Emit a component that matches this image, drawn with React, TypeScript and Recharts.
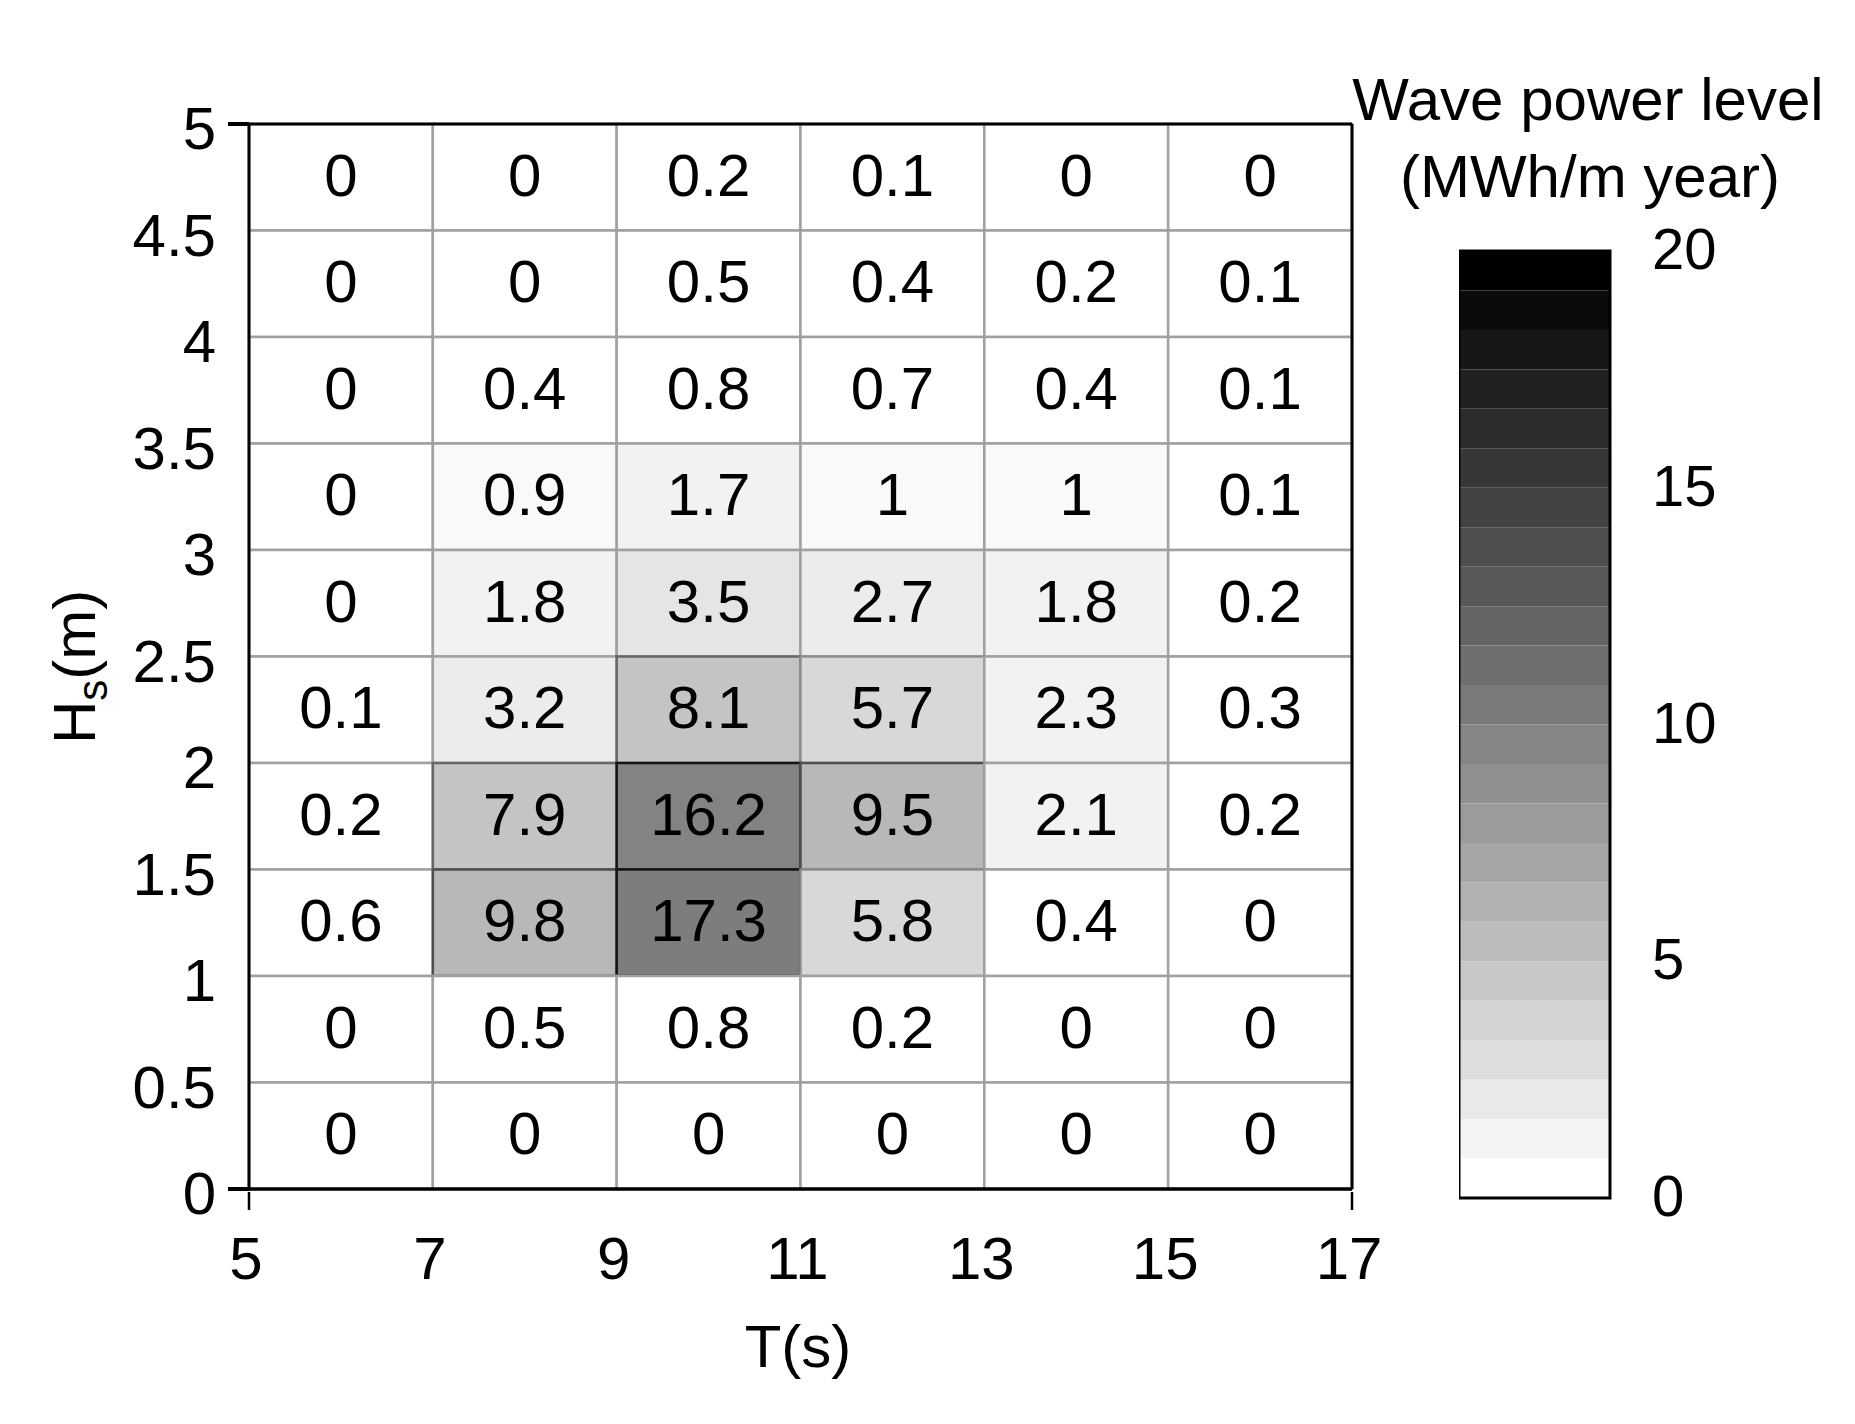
import React from 'react';
import { ScatterChart, Scatter, XAxis, YAxis, ReferenceArea, ReferenceLine } from 'recharts';

const FONT = '"Liberation Sans", Arial, sans-serif';

// Axis ticks / bin edges
const periodEdges = [5, 7, 9, 11, 13, 15, 17];
const heightTicks = [0, 0.5, 1, 1.5, 2, 2.5, 3, 3.5, 4, 4.5, 5];
const binWidthT = 2;
const binHeightH = 0.5;

// Wave power level (MWh/m year) per Hs bin, columns = T bins 5-7 ... 15-17
const hs45to50 = [0, 0, 0.2, 0.1, 0, 0];
const hs40to45 = [0, 0, 0.5, 0.4, 0.2, 0.1];
const hs35to40 = [0, 0.4, 0.8, 0.7, 0.4, 0.1];
const hs30to35 = [0, 0.9, 1.7, 1, 1, 0.1];
const hs25to30 = [0, 1.8, 3.5, 2.7, 1.8, 0.2];
const hs20to25 = [0.1, 3.2, 8.1, 5.7, 2.3, 0.3];
const hs15to20 = [0.2, 7.9, 16.2, 9.5, 2.1, 0.2];
const hs10to15 = [0.6, 9.8, 17.3, 5.8, 0.4, 0];
const hs05to10 = [0, 0.5, 0.8, 0.2, 0, 0];
const hs00to05 = [0, 0, 0, 0, 0, 0];

const rowStarts = [4.5, 4, 3.5, 3, 2.5, 2, 1.5, 1, 0.5, 0];
const rowValues = [hs45to50, hs40to45, hs35to40, hs30to35, hs25to30, hs20to25, hs15to20, hs10to15, hs05to10, hs00to05];

// Colour bar
const colorbarTicks = [0, 5, 10, 15, 20];
const colorbarMax = 20;
const colorbarBands = 24;

const bandIndex = (v: number) => Math.min(colorbarBands - 1, Math.floor((v * colorbarBands) / colorbarMax + 1e-9));
const barGray = (k: number) => Math.round(255 * (1 - k / (colorbarBands - 1)));
const cellGray = (v: number) => Math.round(255 - 0.586 * (255 - barGray(bandIndex(v))));
const grayHex = (g: number) => {
  const h = Math.max(0, Math.min(255, g)).toString(16).padStart(2, '0');
  return `#${h}${h}${h}`;
};
const cellStroke = (g: number) => grayHex(Math.max(20, Math.min(160, 2 * g - 290)));

const cells = rowStarts.flatMap((h0, r) =>
  rowValues[r].map((v, c) => ({
    t0: periodEdges[c],
    t1: periodEdges[c] + binWidthT,
    h0,
    h1: h0 + binHeightH,
    v,
  }))
);
const centers = cells.map((c) => ({ t: (c.t0 + c.t1) / 2, h: (c.h0 + c.h1) / 2, v: c.v }));

const bands = Array.from({ length: colorbarBands }, (_, k) => ({
  y1: (k * colorbarMax) / colorbarBands,
  y2: ((k + 1) * colorbarMax) / colorbarBands,
  fill: grayHex(barGray(k)),
}));

const XTick = (props: any) => {
  const { x, y, payload } = props;
  const end = payload.value === 5 || payload.value === 17;
  return (
    <g>
      {end && <line x1={x} x2={x} y1={y + 3} y2={y + 21} stroke="#000" strokeWidth={2.5} />}
      <text x={x - 3} y={y + 90} textAnchor="middle" fontSize={60} fontFamily={FONT} fill="#000">
        {payload.value}
      </text>
    </g>
  );
};

const YTick = (props: any) => {
  const { x, y, payload } = props;
  const end = payload.value === 0 || payload.value === 5;
  return (
    <g>
      {end && <line x1={x - 21} x2={x} y1={y} y2={y} stroke="#000" strokeWidth={4} />}
      <text x={x - 33} y={y + 25} textAnchor="end" fontSize={60} fontFamily={FONT} fill="#000">
        {payload.value}
      </text>
    </g>
  );
};

const CbTick = (props: any) => {
  const { x, y, payload } = props;
  return (
    <text x={x + 42} y={y + 18} textAnchor="start" fontSize={58} fontFamily={FONT} fill="#000">
      {payload.value}
    </text>
  );
};

export default function App() {
  return (
    <div style={{ position: 'absolute', left: 0, top: 0, width: 1855, height: 1424, background: '#fff' }}>
      <div style={{ position: 'absolute', left: 0, top: 0 }}>
        <ScatterChart width={1400} height={1424} margin={{ top: 124, right: 48, bottom: 0, left: 0 }}>
          <XAxis
            type="number"
            dataKey="t"
            domain={[5, 17]}
            ticks={periodEdges}
            interval={0}
            height={235}
            tickSize={0}
            tickMargin={0}
            tick={<XTick />}
            axisLine={{ stroke: '#000', strokeWidth: 3.5 }}
            allowDataOverflow
          />
          <YAxis
            type="number"
            dataKey="h"
            domain={[0, 5]}
            ticks={heightTicks}
            interval={0}
            width={249}
            tickSize={0}
            tickMargin={0}
            tick={<YTick />}
            axisLine={{ stroke: '#000', strokeWidth: 3 }}
            allowDataOverflow
          />
          {cells.map((c, i) => {
            const g = cellGray(c.v);
            return (
              <ReferenceArea
                key={i}
                x1={c.t0}
                x2={c.t1}
                y1={c.h0}
                y2={c.h1}
                fill={grayHex(g)}
                fillOpacity={1}
                stroke={cellStroke(g)}
                strokeWidth={2.5}
                label={{ value: String(c.v), position: 'center', fontSize: 60, fill: '#000', fontFamily: FONT, dy: -3 }}
              />
            );
          })}
          <ReferenceLine y={5} stroke="#000" strokeWidth={3} />
          <ReferenceLine x={17} stroke="#000" strokeWidth={3} />
          <Scatter data={centers} dataKey="h" shape={() => <g />} isAnimationActive={false} />
        </ScatterChart>
      </div>

      <div style={{ position: 'absolute', left: 1459, top: 0 }}>
        <ScatterChart width={351} height={1424} margin={{ top: 251, right: 0, bottom: 226, left: 0 }}>
          <XAxis type="number" dataKey="x" domain={[0, 1]} hide />
          <YAxis
            yAxisId={0}
            orientation="right"
            type="number"
            dataKey="y"
            domain={[0, colorbarMax]}
            ticks={colorbarTicks}
            interval={0}
            width={200}
            tickSize={0}
            tickMargin={0}
            axisLine={false}
            tick={<CbTick />}
          />
          {bands.map((b, k) => (
            <ReferenceArea key={k} x1={0} x2={1} y1={b.y1} y2={b.y2} fill={b.fill} fillOpacity={1} stroke="none" />
          ))}
          <ReferenceArea x1={0} x2={1} y1={0} y2={colorbarMax} fill="none" stroke="#000" strokeWidth={3} />
          <Scatter
            data={bands.map((b) => ({ x: 0.5, y: (b.y1 + b.y2) / 2 }))}
            dataKey="y"
            shape={() => <g />}
            isAnimationActive={false}
          />
        </ScatterChart>
      </div>

      <svg
        width={1855}
        height={1424}
        style={{ position: 'absolute', left: 0, top: 0, pointerEvents: 'none' }}
        fontFamily={FONT}
      >
        <text x={1588} y={120} textAnchor="middle" fontSize={60} fill="#000">
          Wave power level
        </text>
        <text x={1590} y={197} textAnchor="middle" fontSize={60} fill="#000">
          (MWh/m year)
        </text>
        <text x={798} y={1367} textAnchor="middle" fontSize={60} fill="#000">
          T(s)
        </text>
        <text transform="translate(95, 744) rotate(-90)" textAnchor="start" fontSize={60} fill="#000">
          H
          <tspan fontSize={42} dy={12}>
            s
          </tspan>
          <tspan fontSize={60} dy={-12}>
            (m)
          </tspan>
        </text>
      </svg>
    </div>
  );
}
